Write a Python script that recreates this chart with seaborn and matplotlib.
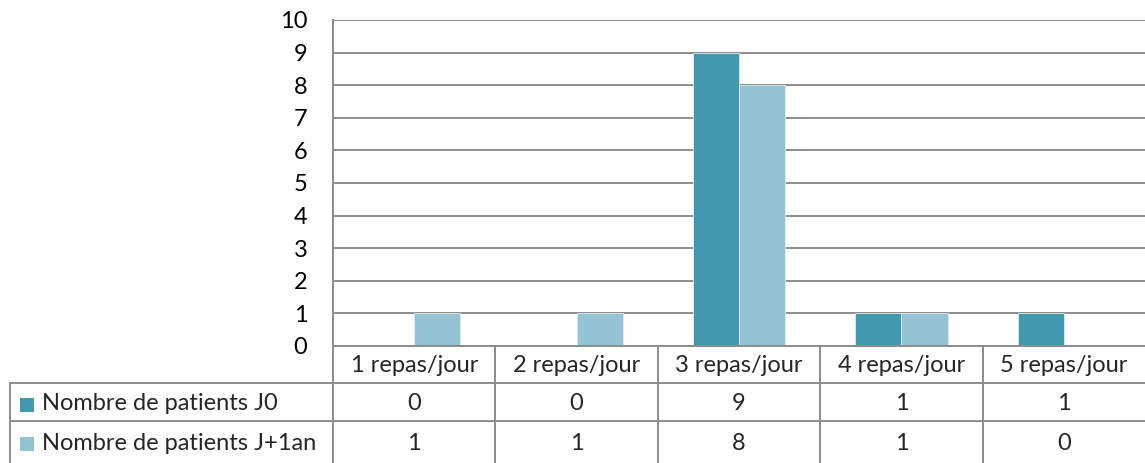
import matplotlib
matplotlib.use("Agg")
import matplotlib.pyplot as plt
import matplotlib.transforms as mtransforms
from matplotlib.patches import Rectangle
import seaborn as sns
import pandas as pd

categories = ["1 repas/jour", "2 repas/jour", "3 repas/jour", "4 repas/jour", "5 repas/jour"]
series_names = ["Nombre de patients J0", "Nombre de patients J+1an"]
patients_j0 = [0, 0, 9, 1, 1]
patients_j1an = [1, 1, 8, 1, 0]
colors = ["#4198AF", "#93C3D4"]
yticks = list(range(0, 11))

sns.set_theme(style="white")
plt.rcParams["font.family"] = ["Lato", "DejaVu Sans"]
FS = 17

W, H = 1145, 463
fig = plt.figure(figsize=(W / 100, H / 100), dpi=100)

# plot area in pixel coordinates
x0, x1 = 333, 1145
y_top, y_zero = 20, 346
ax = fig.add_axes([x0 / W, 1 - y_zero / H, (x1 - x0) / W, (y_zero - y_top) / H])

df = pd.DataFrame({
    "cat": categories * 2,
    "serie": [series_names[0]] * 5 + [series_names[1]] * 5,
    "val": patients_j0 + patients_j1an,
})
sns.barplot(data=df, x="cat", y="val", hue="serie", order=categories,
            hue_order=series_names, palette=colors, width=0.57,
            edgecolor="#DDEBF0", linewidth=0.6, saturation=1, ax=ax, legend=False)

grid_c = "#8C8C8C"
lw = 1.4
ax.set_xlim(-0.5, 4.5)
ax.set_ylim(0, 10)
ax.set_yticks(yticks)
ax.set_yticklabels([str(t) for t in yticks], fontsize=FS, color="black")
ax.tick_params(axis="y", length=0, pad=18.5)
ax.set_xticks([])
ax.set_xlabel("")
ax.set_ylabel("")
ax.yaxis.grid(True, color=grid_c, linewidth=lw)
ax.set_axisbelow(True)
for s in ["top", "right"]:
    ax.spines[s].set_visible(False)
for s in ["left", "bottom"]:
    ax.spines[s].set_color(grid_c)
    ax.spines[s].set_linewidth(lw)

# data table under the plot
tr = mtransforms.blended_transform_factory(ax.transData, fig.transFigure)
def fy(py):
    return 1 - py / H

row_lines = [383, 421]
row_mid = [365, 404, 443]
for py in row_lines:
    fig.add_artist(plt.Line2D([10 / W, 1.0], [fy(py), fy(py)], color=grid_c, lw=lw,
                              transform=fig.transFigure))
fig.add_artist(plt.Line2D([10 / W, 10 / W], [fy(383), fy(463)], color=grid_c, lw=lw,
                          transform=fig.transFigure))
for i in range(len(categories)):
    xb = i - 0.5
    ax.add_artist(plt.Line2D([xb, xb], [fy(346), fy(463)], color=grid_c, lw=lw,
                             transform=tr, clip_on=False))
for i, c in enumerate(categories):
    ax.text(i, fy(row_mid[0]), c, transform=tr, ha="center", va="center", fontsize=FS)
    ax.text(i, fy(row_mid[1]), str(patients_j0[i]), transform=tr, ha="center", va="center", fontsize=FS)
    ax.text(i, fy(row_mid[2]), str(patients_j1an[i]), transform=tr, ha="center", va="center", fontsize=FS)

for k, name in enumerate(series_names):
    ym = row_mid[k + 1] + 1
    fig.add_artist(Rectangle((20 / W, fy(ym + 7)), 14 / W, 14 / H, facecolor=colors[k],
                             edgecolor="none", transform=fig.transFigure))
    fig.text(42 / W, fy(row_mid[k + 1]), name, ha="left", va="center", fontsize=FS)

fig.savefig("out.png", dpi=100)
